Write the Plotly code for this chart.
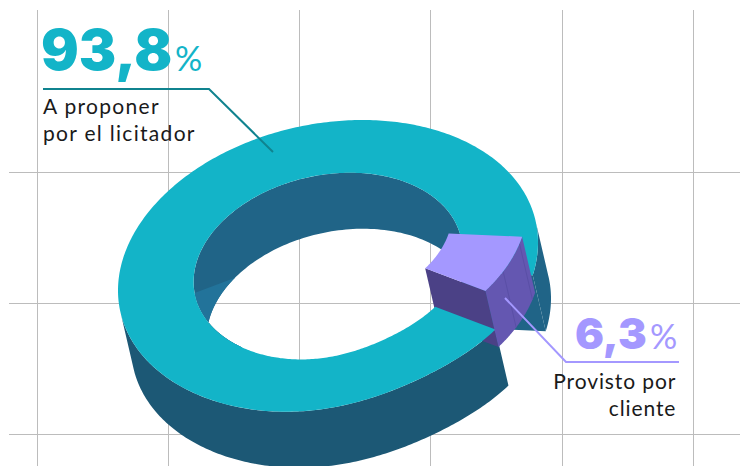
import numpy as np
import plotly.graph_objects as go

# ---- data -------------------------------------------------------------
shares = [93.8, 6.3]
share_labels = ["93,8", "6,3"]
category_labels = ["A proponer<br>por el licitador", "Provisto por<br>cliente"]
grid_x = [37, 168.2, 299.5, 430.7, 562, 693.2]
grid_y = [172, 303, 434]

# ---- colours ----------------------------------------------------------
TEAL = "#13b4c8"
TEAL_FRONT = "#1c5875"
TEAL_INNER = "#206487"
TEAL_FACET = "#22739a"
TEAL_LINE = "#10838f"
PURPLE = "#a498ff"
PURPLE_WALL = "#6457b1"
PURPLE_SEAM = "#5a4fa6"
PURPLE_FACE = "#4b4186"
TEXT = "#1a1a1a"

# ---- projection of a ring seen in perspective --------------------------
CX, CY = 328.0, 266.5
RX, TILT, RY = 210.0, -24.0, 144.5
HOLE = 0.64
DEPTH = (13.0, 56.0)
LIFT = (-10.0, -38.5)
START = 35.5
SILHOUETTE_LEFT = 171.0
SILHOUETTE_RIGHT = 351.0


def ring(angle, radius=1.0, depth=0.0, lift=False):
    deg = np.asarray(angle, dtype=float)
    a = np.radians(deg)
    # near-side flattening of the perspective view
    flat = 1.0 - 0.045 * np.exp(-(((deg - 62.0) / 30.0) ** 2))
    x = CX + flat * radius * RX * np.cos(a) + depth * DEPTH[0]
    y = CY + flat * radius * (TILT * np.cos(a) + RY * np.sin(a)) + depth * DEPTH[1]
    if lift:
        x = x + LIFT[0]
        y = y + LIFT[1]
    return x, y


def arc(a, b, n=160):
    return np.linspace(a, b, n)


def poly(parts, color):
    xs = np.concatenate([p[0] for p in parts] + [[parts[0][0][0]]])
    ys = np.concatenate([p[1] for p in parts] + [[parts[0][1][0]]])
    return go.Scatter(x=xs, y=ys, mode="none", fill="toself", fillcolor=color,
                      hoverinfo="skip", showlegend=False)


def line(xs, ys, color, width):
    return go.Scatter(x=xs, y=ys, mode="lines", line=dict(color=color, width=width),
                      hoverinfo="skip", showlegend=False)


total = sum(shares)
span0 = shares[0] / total * 360.0
END = START + span0        # teal slice runs START..END (clockwise on screen)
PURPLE_START = END - 360.0  # purple slice runs END-360..START

traces = []

# inner wall of the hole (back part)
t = arc(130, END)
traces.append(poly([ring(t, HOLE), ring(t[::-1], HOLE, 1.0)], TEAL_INNER))
# lighter facet on the inner wall
traces.append(poly([ring(arc(173, 130), HOLE), ring(arc(130, 218), HOLE, 1.0)], TEAL_FACET))
# cut face at the end of the teal slice
traces.append(poly([ring([END], 1.0), ring([END], HOLE), ring([END], HOLE, 1.0), ring([END], 1.0, 1.0)], TEAL_INNER))
# outer wall, right of the cut
t = arc(SILHOUETTE_RIGHT, END)
traces.append(poly([ring(t, 1.0), ring(t[::-1], 1.0, 1.0)], TEAL_INNER))
# outer wall, front
t = arc(START, SILHOUETTE_LEFT)
traces.append(poly([ring(t, 1.0), ring(t[::-1], 1.0, 1.0)], TEAL_FRONT))
# exploded slice: radial face
traces.append(poly([ring([START], HOLE, 0, True), ring([START], 1.0, 0, True),
                    ring([START], 1.0, 1.0, True), ring([START], HOLE, 1.0, True)], PURPLE_FACE))
# teal top face
t = arc(START, END, 400)
traces.append(poly([ring(t, 1.0), ring(t[::-1], HOLE)], TEAL))
# exploded slice: outer wall and top
t = arc(PURPLE_START, START, 60)
traces.append(poly([ring(t, 1.0, 0, True), ring(t[::-1], 1.0, 1.0, True)], PURPLE_WALL))
for frac in (0.12, 0.62):
    sx, sy = ring([PURPLE_START + frac * (START - PURPLE_START)] * 2, 1.0, np.array([0.0, 1.0]), True)
    traces.append(line(sx, sy, PURPLE_SEAM, 1))
traces.append(poly([ring(t, 1.0, 0, True), ring(t[::-1], HOLE, 0, True)], PURPLE))

# leader lines
traces.append(line([43, 209, 273], [89, 89, 152], TEAL_LINE, 2))
traces.append(line([505, 566, 679], [298, 362, 362], PURPLE, 2))

fig = go.Figure(traces)

HEAVY = "Inter, Lato, sans-serif"
LIGHT = "Lato, 'Open Sans', sans-serif"


def note(x, y, text, size, color, xanchor="left", family=LIGHT, weight=None, align="left"):
    fig.add_annotation(x=x, y=y, xref="x", yref="y", text=text, showarrow=False,
                       xanchor=xanchor, yanchor="middle", align=align,
                       font=dict(family=family, size=size, color=color, weight=weight))


note(39, 49.5, share_labels[0], 56, TEAL, family=HEAVY, weight=900)
note(173, 57, "%", 34, TEAL, weight=400)
note(40.5, 119, category_labels[0], 21, TEXT)
note(573, 333, share_labels[1], 43, PURPLE, family=HEAVY, weight=900)
note(648, 335, "%", 34, PURPLE, weight=400)
note(678.5, 394, category_labels[1], 21, TEXT, xanchor="right", align="right")

fig.update_layout(
    width=742, height=466,
    margin=dict(l=9, r=2, t=10, b=0, pad=0),
    paper_bgcolor="white", plot_bgcolor="white",
    showlegend=False,
    xaxis=dict(range=[9, 740], tickvals=grid_x, showgrid=True, gridcolor="#bcbcbc", gridwidth=1,
               showticklabels=False, zeroline=False, ticks="", showline=False, fixedrange=True),
    yaxis=dict(range=[466, 10], tickvals=grid_y, showgrid=True, gridcolor="#bcbcbc", gridwidth=1,
               showticklabels=False, zeroline=False, ticks="", showline=False, fixedrange=True),
)

fig.write_html(
    "out.html", config=dict(displayModeBar=False),
    post_script=(
        "document.body.style.margin='0';document.body.style.overflow='hidden';"
        "document.querySelectorAll('.annotation-text').forEach(function(n){"
        "if(parseFloat(n.style.fontSize)===21){"
        "n.style.letterSpacing=n.textContent.indexOf('Provisto')===0?'0.9px':'1.3px';}});"
    ),
)
